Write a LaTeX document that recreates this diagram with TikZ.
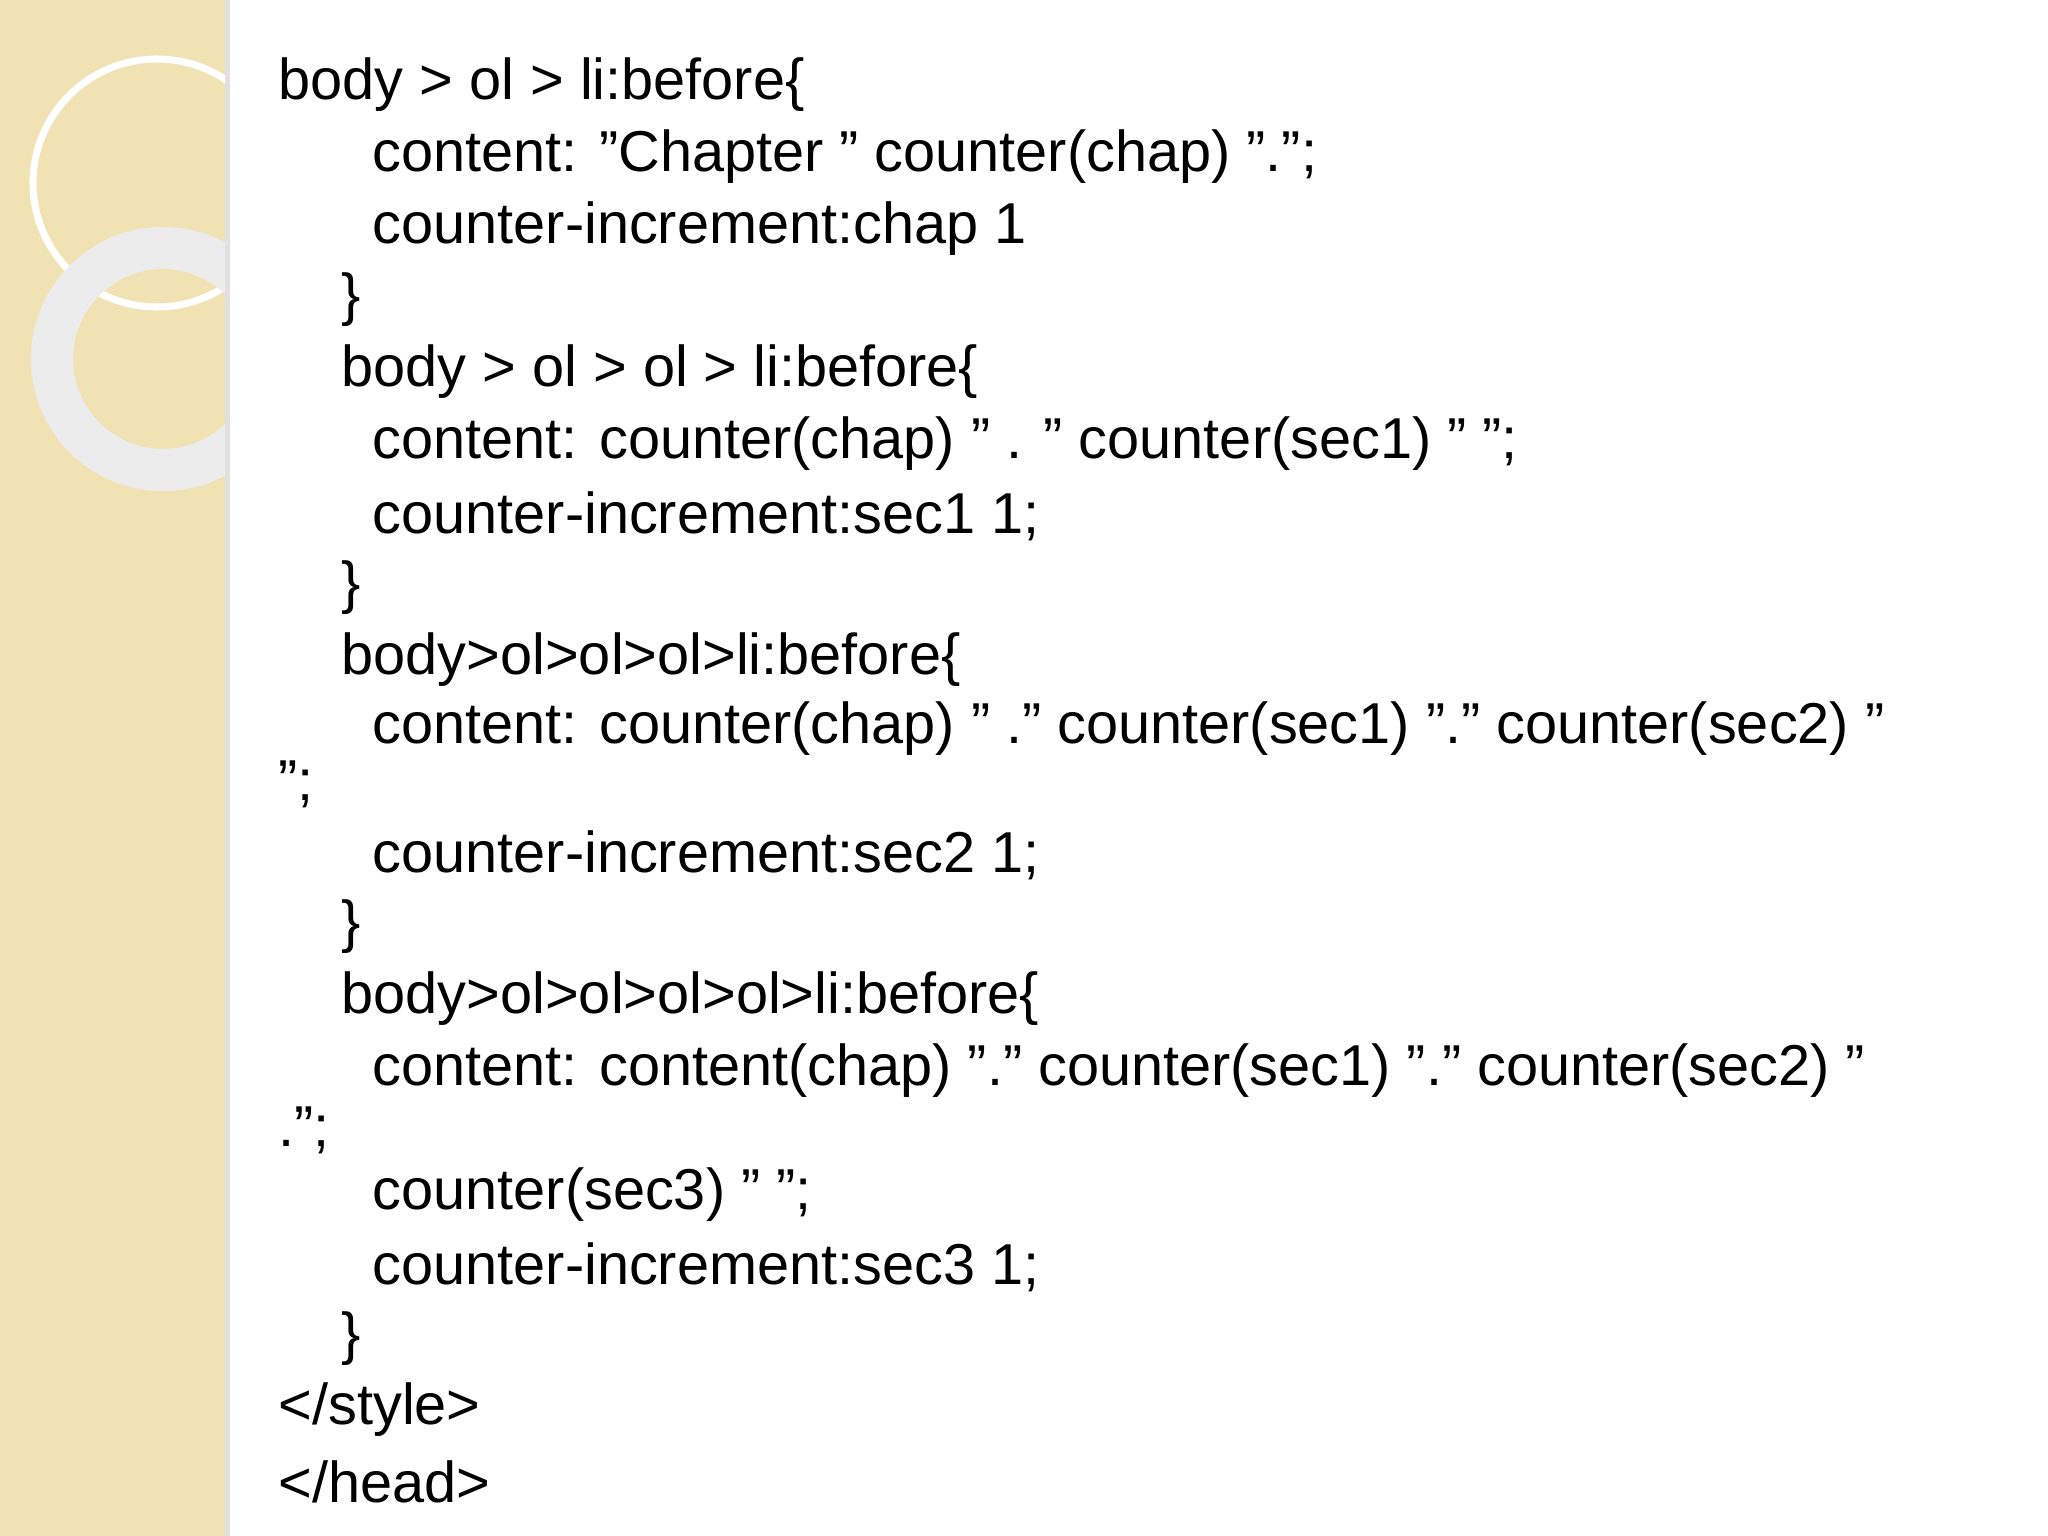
\documentclass[tikz,border=0pt]{standalone}
\usepackage{fontspec}
\setmainfont{Liberation Sans}
\definecolor{strip}{HTML}{F1E2B4}
\def\q{\symbol{34}}
\begin{document}
\begin{tikzpicture}[x=0.01cm,y=-0.01cm,
  code/.style={anchor=west,inner sep=0pt,font=\fontsize{16.4}{20}\selectfont}]
\useasboundingbox (0,0) rectangle (2048,1536);
\fill[white] (0,0) rectangle (2048,1536);
\fill[strip] (0,0) rectangle (225,1536);
\fill[black!12] (225,0) rectangle (230,1536);
\begin{scope}
\clip (0,0) rectangle (225,1536);
\draw[white,line width=2pt] (157,183) circle (124);
\draw[white!85!gray,line width=12pt] (163,359) circle (111);
\end{scope}
\node[code] (l1) at (278,85) {body > ol > li:before\{};
\node[code] (l2) at (372,157) {content: \q Chapter \q\ counter(chap) \q.\q;};
\node[code] (l3) at (372,229) {counter-increment:chap 1};
\node[code] (l4) at (341,300) {\}};
\node[code] (l5) at (341,372) {body > ol > ol > li:before\{};
\node[code] (l6) at (372,444) {content: counter(chap) \q\ . \q\ counter(sec1) \q\ \q;};
\node[code] (l7) at (372,516) {counter-increment:sec1 1;};
\node[code] (l8) at (341,588) {\}};
\node[code] (l9) at (341,660) {body>ol>ol>ol>li:before\{};
\node[code] (l10) at (372,729) {content: counter(chap) \q\ .\q\ counter(sec1) \q.\q\ counter(sec2) \q};
\node[code] (l11) at (278,784) {\q;};
\node[code] (l12) at (372,855) {counter-increment:sec2 1;};
\node[code] (l13) at (341,927) {\}};
\node[code] (l14) at (341,999) {body>ol>ol>ol>ol>li:before\{};
\node[code] (l15) at (372,1071) {content: content(chap) \q.\q\ counter(sec1) \q.\q\ counter(sec2) \q};
\node[code] (l16) at (278,1130) {.\q;};
\node[code] (l17) at (372,1195) {counter(sec3) \q\ \q;};
\node[code] (l18) at (372,1267) {counter-increment:sec3 1;};
\node[code] (l19) at (341,1339) {\}};
\node[code] (l20) at (278,1410) {</style>};
\node[code] (l21) at (278,1482) {</head>};
\end{tikzpicture}
\end{document}
